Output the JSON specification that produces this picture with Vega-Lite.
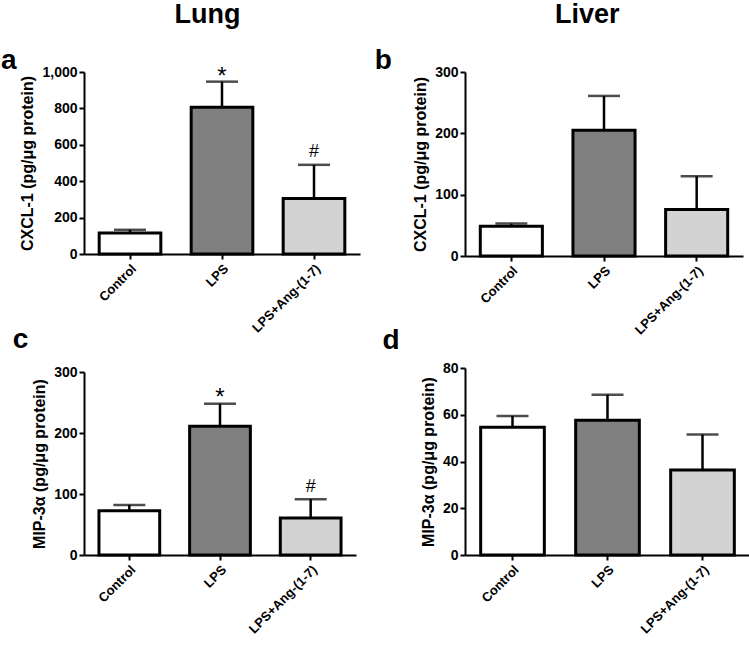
{
  "$schema": "https://vega.github.io/schema/vega-lite/v6.json",
  "background": "white",
  "padding": {"left": 0, "top": 0, "right": 2, "bottom": 0},
  "config": {
    "view": {"stroke": null},
    "font": "Liberation Sans",
    "axis": {
      "grid": false,
      "domainColor": "black",
      "domainWidth": 2,
      "tickColor": "black",
      "tickWidth": 2,
      "tickSize": 5,
      "labelColor": "black",
      "labelFont": "Liberation Sans",
      "labelFontWeight": "bold",
      "labelFontSize": 14,
      "titleColor": "black",
      "titleFont": "Liberation Sans",
      "titleFontWeight": "bold",
      "titleFontSize": 16
    },
    "axisX": {"labelAngle": -45, "labelFontSize": 13, "title": null, "labelPadding": 3},
    "axisY": {"titlePadding": 6, "labelPadding": 2, "labelOverlap": false},
    "title": {"font": "Liberation Sans", "fontWeight": "bold", "color": "black"}
  },
  "datasets": {
    "d": [
      {"panel": "a", "group": "Control", "mean": 115, "upper": 133, "sig": ""},
      {"panel": "a", "group": "LPS", "mean": 806, "upper": 947, "sig": "*"},
      {"panel": "a", "group": "LPS+Ang-(1-7)", "mean": 305, "upper": 490, "sig": "#"},
      {"panel": "b", "group": "Control", "mean": 48.5, "upper": 52.8, "sig": ""},
      {"panel": "b", "group": "LPS", "mean": 205, "upper": 261, "sig": ""},
      {"panel": "b", "group": "LPS+Ang-(1-7)", "mean": 76, "upper": 130, "sig": ""},
      {"panel": "c", "group": "Control", "mean": 72.5, "upper": 82, "sig": ""},
      {"panel": "c", "group": "LPS", "mean": 211, "upper": 248, "sig": "*"},
      {"panel": "c", "group": "LPS+Ang-(1-7)", "mean": 60.5, "upper": 91.5, "sig": "#"},
      {"panel": "d", "group": "Control", "mean": 54.7, "upper": 59.5, "sig": ""},
      {"panel": "d", "group": "LPS", "mean": 57.7, "upper": 68.6, "sig": ""},
      {"panel": "d", "group": "LPS+Ang-(1-7)", "mean": 36.4, "upper": 51.5, "sig": ""}
    ]
  },
  "spacing": 14,
  "hconcat": [
    {
      "title": {"text": "Lung", "fontSize": 27, "anchor": "middle", "dx": 27, "offset": 18},
      "spacing": 118,
      "bounds": "flush",
      "vconcat": [
        {
          "title": {"text": "a", "fontSize": 28, "anchor": "start", "dx": -19, "offset": -10},
          "width": 276, "height": 182,
          "data": {"name": "d"},
          "transform": [{"filter": "datum.panel === 'a'"}],
          "encoding": {
            "x": {"field": "group", "type": "nominal", "sort": ["Control", "LPS", "LPS+Ang-(1-7)"],
                  "scale": {"paddingInner": 0.33, "paddingOuter": 0.165}}
          },
          "layer": [
            {"mark": {"type": "rule", "color": "black", "strokeWidth": 2.5},
             "encoding": {"y": {"field": "mean", "type": "quantitative", "scale": {"domain": [0, 1000]}, "title": "CXCL-1 (pg/μg protein)", "axis": {"values": [0, 200, 400, 600, 800, 1000], "format": ",.0f", "labelOverlap": false}},
                          "y2": {"field": "upper"}}},
            {"mark": {"type": "tick", "color": "black", "thickness": 2.5, "size": 32},
             "encoding": {"y": {"field": "upper", "type": "quantitative", "title": "CXCL-1 (pg/μg protein)", "axis": {"values": [0, 200, 400, 600, 800, 1000], "format": ",.0f", "labelOverlap": false}}}},
            {"mark": {"type": "bar", "stroke": "black", "strokeWidth": 3},
             "encoding": {"y": {"field": "mean", "type": "quantitative", "title": "CXCL-1 (pg/μg protein)", "axis": {"values": [0, 200, 400, 600, 800, 1000], "format": ",.0f", "labelOverlap": false}},
                          "fill": {"field": "group", "type": "nominal", "scale": {"domain": ["Control", "LPS", "LPS+Ang-(1-7)"], "range": ["#ffffff", "#808080", "#d3d3d3"]}, "legend": null}}},
            {"transform": [{"filter": "datum.sig === '*'"}],
             "mark": {"type": "text", "baseline": "alphabetic", "dy": 2, "fontSize": 24, "font": "Liberation Sans", "color": "black"},
             "encoding": {"y": {"field": "upper", "type": "quantitative", "title": "CXCL-1 (pg/μg protein)", "axis": {"values": [0, 200, 400, 600, 800, 1000], "format": ",.0f", "labelOverlap": false}}, "text": {"field": "sig"}}},
            {"transform": [{"filter": "datum.sig === '#'"}],
             "mark": {"type": "text", "baseline": "alphabetic", "dy": -7.5, "fontSize": 18, "font": "Liberation Sans", "color": "black"},
             "encoding": {"y": {"field": "upper", "type": "quantitative", "title": "CXCL-1 (pg/μg protein)", "axis": {"values": [0, 200, 400, 600, 800, 1000], "format": ",.0f", "labelOverlap": false}}, "text": {"field": "sig"}}}
          ]
        },
        {
          "title": {"text": "c", "fontSize": 28, "anchor": "start", "dx": -19, "offset": 11},
          "width": 272, "height": 183,
          "data": {"name": "d"},
          "transform": [{"filter": "datum.panel === 'c'"}],
          "encoding": {
            "x": {"field": "group", "type": "nominal", "sort": ["Control", "LPS", "LPS+Ang-(1-7)"],
                  "scale": {"paddingInner": 0.33, "paddingOuter": 0.165}}
          },
          "layer": [
            {"mark": {"type": "rule", "color": "black", "strokeWidth": 2.5},
             "encoding": {"y": {"field": "mean", "type": "quantitative", "scale": {"domain": [0, 300]}, "title": "MIP-3α (pg/μg protein)", "axis": {"values": [0, 100, 200, 300], "labelOverlap": false}},
                          "y2": {"field": "upper"}}},
            {"mark": {"type": "tick", "color": "black", "thickness": 2.5, "size": 32},
             "encoding": {"y": {"field": "upper", "type": "quantitative", "title": "MIP-3α (pg/μg protein)"}}},
            {"mark": {"type": "bar", "stroke": "black", "strokeWidth": 3},
             "encoding": {"y": {"field": "mean", "type": "quantitative", "title": "MIP-3α (pg/μg protein)"},
                          "fill": {"field": "group", "type": "nominal", "scale": {"domain": ["Control", "LPS", "LPS+Ang-(1-7)"], "range": ["#ffffff", "#808080", "#d3d3d3"]}, "legend": null}}},
            {"transform": [{"filter": "datum.sig === '*'"}],
             "mark": {"type": "text", "baseline": "alphabetic", "dy": 1, "fontSize": 24, "font": "Liberation Sans", "color": "black"},
             "encoding": {"y": {"field": "upper", "type": "quantitative", "title": "MIP-3α (pg/μg protein)"}, "text": {"field": "sig"}}},
            {"transform": [{"filter": "datum.sig === '#'"}],
             "mark": {"type": "text", "baseline": "alphabetic", "dy": -7, "fontSize": 18, "font": "Liberation Sans", "color": "black"},
             "encoding": {"y": {"field": "upper", "type": "quantitative", "title": "MIP-3α (pg/μg protein)"}, "text": {"field": "sig"}}}
          ]
        }
      ]
    },
    {
      "title": {"text": "Liver", "fontSize": 27, "anchor": "middle", "dx": 25, "offset": 18},
      "spacing": 112,
      "bounds": "flush",
      "vconcat": [
        {
          "title": {"text": "b", "fontSize": 28, "anchor": "start", "dx": -38, "offset": -10},
          "width": 278, "height": 184,
          "data": {"name": "d"},
          "transform": [{"filter": "datum.panel === 'b'"}],
          "encoding": {
            "x": {"field": "group", "type": "nominal", "sort": ["Control", "LPS", "LPS+Ang-(1-7)"],
                  "scale": {"paddingInner": 0.33, "paddingOuter": 0.165}}
          },
          "layer": [
            {"mark": {"type": "rule", "color": "black", "strokeWidth": 2.5},
             "encoding": {"y": {"field": "mean", "type": "quantitative", "scale": {"domain": [0, 300]}, "title": "CXCL-1 (pg/μg protein)", "axis": {"values": [0, 100, 200, 300], "labelOverlap": false}},
                          "y2": {"field": "upper"}}},
            {"mark": {"type": "tick", "color": "black", "thickness": 2.5, "size": 32},
             "encoding": {"y": {"field": "upper", "type": "quantitative", "title": "CXCL-1 (pg/μg protein)"}}},
            {"mark": {"type": "bar", "stroke": "black", "strokeWidth": 3},
             "encoding": {"y": {"field": "mean", "type": "quantitative", "title": "CXCL-1 (pg/μg protein)"},
                          "fill": {"field": "group", "type": "nominal", "scale": {"domain": ["Control", "LPS", "LPS+Ang-(1-7)"], "range": ["#ffffff", "#808080", "#d3d3d3"]}, "legend": null}}}
          ]
        },
        {
          "title": {"text": "d", "fontSize": 28, "anchor": "start", "dx": -38, "offset": 6},
          "width": 285, "height": 187,
          "data": {"name": "d"},
          "transform": [{"filter": "datum.panel === 'd'"}],
          "encoding": {
            "x": {"field": "group", "type": "nominal", "sort": ["Control", "LPS", "LPS+Ang-(1-7)"],
                  "scale": {"paddingInner": 0.33, "paddingOuter": 0.165}}
          },
          "layer": [
            {"mark": {"type": "rule", "color": "black", "strokeWidth": 2.5},
             "encoding": {"y": {"field": "mean", "type": "quantitative", "scale": {"domain": [0, 80]}, "title": "MIP-3α (pg/μg protein)", "axis": {"values": [0, 20, 40, 60, 80], "labelOverlap": false}},
                          "y2": {"field": "upper"}}},
            {"mark": {"type": "tick", "color": "black", "thickness": 2.5, "size": 32},
             "encoding": {"y": {"field": "upper", "type": "quantitative", "title": "MIP-3α (pg/μg protein)"}}},
            {"mark": {"type": "bar", "stroke": "black", "strokeWidth": 3},
             "encoding": {"y": {"field": "mean", "type": "quantitative", "title": "MIP-3α (pg/μg protein)"},
                          "fill": {"field": "group", "type": "nominal", "scale": {"domain": ["Control", "LPS", "LPS+Ang-(1-7)"], "range": ["#ffffff", "#808080", "#d3d3d3"]}, "legend": null}}}
          ]
        }
      ]
    }
  ]
}
